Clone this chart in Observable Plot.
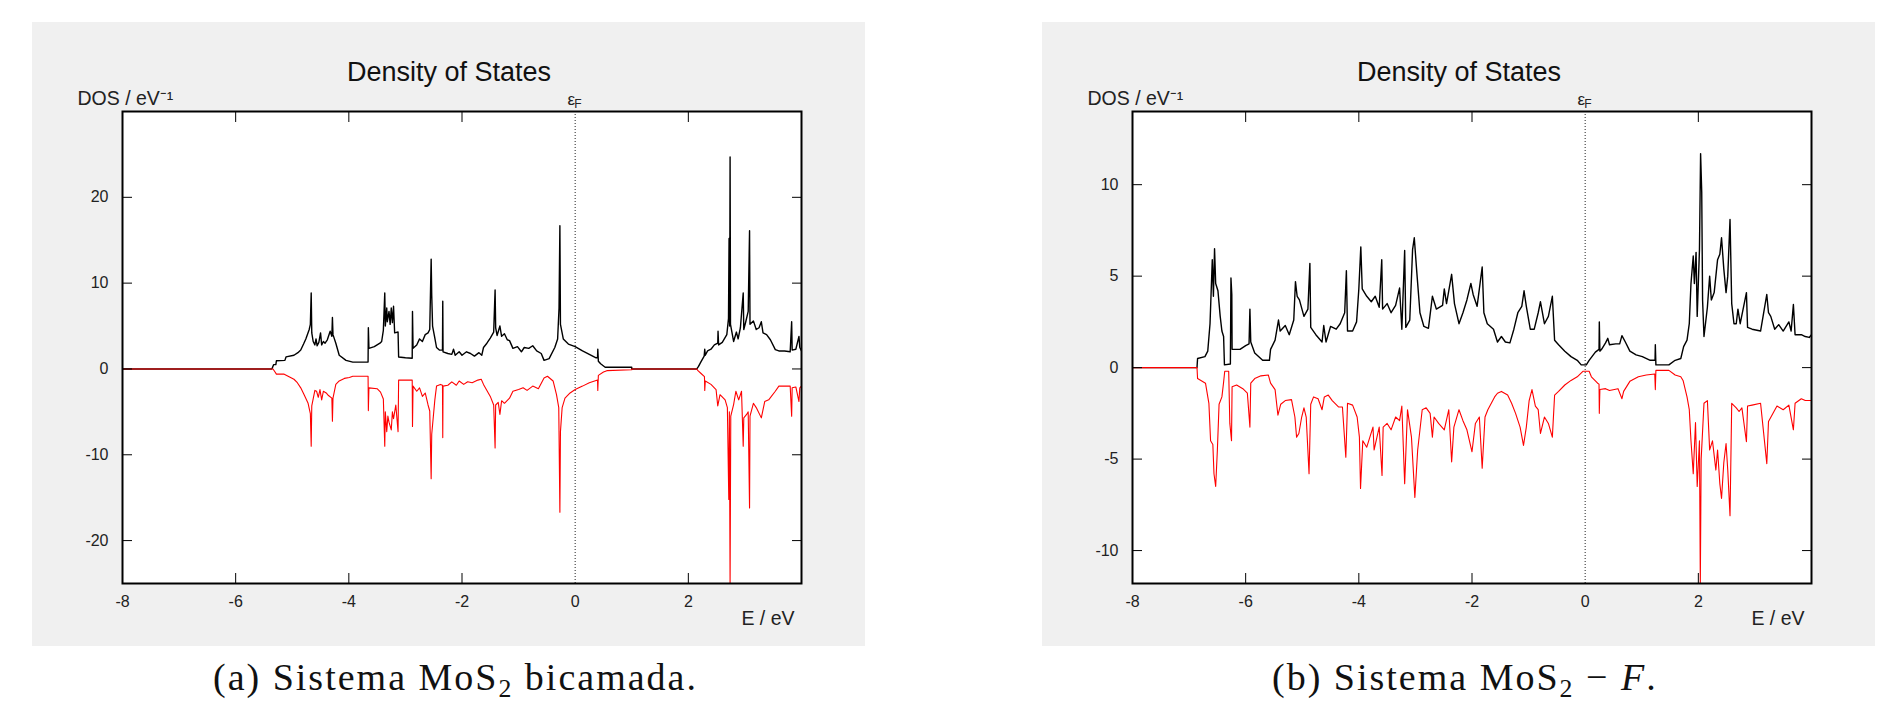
<!DOCTYPE html>
<html><head><meta charset="utf-8">
<script src="https://cdn.jsdelivr.net/npm/d3@7"></script>
<script src="https://cdn.jsdelivr.net/npm/@observablehq/plot@0.6"></script>
<style>
html,body{margin:0;padding:0;background:#fff;width:1884px;height:701px;overflow:hidden;}
.panel{position:absolute;top:22px;line-height:0;}
.cap{position:absolute;top:655px;font-family:"Liberation Serif","Times New Roman",serif;font-size:38px;letter-spacing:2px;white-space:nowrap;color:#111;}
.cap sub{font-size:0.68em;vertical-align:-0.28em;line-height:0;}
</style></head><body>
<div id="pa" class="panel" style="left:32px"></div>
<div id="pb" class="panel" style="left:1042px"></div>
<div class="cap" style="left:213px">(a) Sistema MoS<sub>2</sub> bicamada.</div>
<div class="cap" style="left:1272px">(b) Sistema MoS<sub>2</sub> − <i>F</i>.</div>
<script>
// ---- data (E in eV, DOS in states/eV) ----
const xTickLabels = [-8, -6, -4, -2, 0, 2];
const xTickMarks = [-6, -4, -2, 2];
const yTicksA = [-20, -10, 0, 10, 20];
const yTicksB = [-10, -5, 0, 5, 10];
const yDomainA = [-25, 30];
const yDomainB = [-11.8, 14];

// (a) MoS2 bilayer, spin up (black)
const dosA_up = [[-8,0],[-5.36,0],[-5.33,0.5],[-5.29,0.5],[-5.28,0.95],[-5.13,1.0],[-5.11,1.4],[-4.97,1.6],[-4.90,1.9],[-4.85,2.2],[-4.80,2.9],[-4.76,3.5],[-4.70,4.6],[-4.68,5.2],[-4.665,8.85],[-4.655,4.2],[-4.63,3.2],[-4.60,2.8],[-4.58,3.5],[-4.56,2.7],[-4.53,3.1],[-4.50,4.2],[-4.48,2.8],[-4.45,3.2],[-4.42,3.0],[-4.38,3.4],[-4.33,4.4],[-4.30,3.8],[-4.29,6.0],[-4.28,4.0],[-4.23,3.0],[-4.17,1.6],[-4.05,1.0],[-3.93,0.8],[-3.66,0.8],[-3.655,4.8],[-3.645,2.4],[-3.55,2.6],[-3.45,3.0],[-3.42,3.2],[-3.39,4.5],[-3.365,8.85],[-3.355,5.0],[-3.33,7.1],[-3.32,5.5],[-3.29,6.7],[-3.27,5.2],[-3.25,7.1],[-3.23,5.4],[-3.21,7.3],[-3.19,4.2],[-3.13,4.3],[-3.12,1.4],[-3.0,1.3],[-2.88,1.25],[-2.875,6.7],[-2.865,2.4],[-2.80,2.8],[-2.75,3.5],[-2.70,3.2],[-2.65,4.0],[-2.60,4.2],[-2.57,4.6],[-2.545,12.8],[-2.535,8.6],[-2.52,5.0],[-2.48,3.6],[-2.45,2.5],[-2.40,2.2],[-2.345,2.2],[-2.34,7.9],[-2.335,2.0],[-2.25,1.8],[-2.18,1.7],[-2.15,2.3],[-2.12,1.6],[-2.05,2.0],[-2.0,1.6],[-1.92,2.0],[-1.85,1.8],[-1.78,1.5],[-1.70,1.9],[-1.65,1.6],[-1.62,2.5],[-1.56,3.0],[-1.50,3.6],[-1.44,4.3],[-1.415,9.2],[-1.405,4.8],[-1.38,3.9],[-1.33,5.0],[-1.30,3.8],[-1.25,4.1],[-1.20,3.4],[-1.16,3.3],[-1.10,2.4],[-1.02,2.6],[-0.95,2.0],[-0.90,2.5],[-0.82,2.4],[-0.75,2.7],[-0.68,2.1],[-0.60,1.8],[-0.55,1.0],[-0.46,1.2],[-0.36,2.5],[-0.31,3.5],[-0.285,7.1],[-0.27,16.7],[-0.26,5.2],[-0.21,3.5],[-0.12,2.9],[0,2.6],[0.13,2.1],[0.25,1.7],[0.37,1.3],[0.395,1.3],[0.40,2.3],[0.41,0.9],[0.45,0.6],[0.53,0.2],[1.0,0.2],[1.0,0],[2.15,0],[2.18,0.3],[2.22,0.8],[2.28,1.5],[2.29,2.3],[2.30,1.6],[2.34,2.1],[2.40,2.3],[2.46,2.8],[2.52,3.0],[2.525,4.4],[2.535,2.8],[2.60,3.1],[2.68,4.0],[2.71,5.9],[2.72,15.2],[2.73,5.0],[2.738,24.7],[2.745,5.2],[2.80,3.2],[2.85,4.3],[2.88,3.5],[2.92,4.8],[2.97,8.85],[2.98,4.6],[3.015,5.5],[3.058,6.7],[3.082,16.1],[3.09,5.2],[3.15,5.6],[3.20,4.6],[3.25,4.8],[3.29,5.5],[3.32,4.2],[3.383,4.0],[3.45,3.4],[3.537,2.25],[3.60,2.1],[3.70,2.1],[3.80,2.0],[3.826,5.5],[3.835,2.2],[3.90,2.3],[3.955,3.8],[3.97,2.5],[4.0,2.1]];

// (a) MoS2 bilayer, spin down (red)
const dosA_dn = [[-8,0],[-5.34,0],[-5.31,-0.3],[-5.28,-0.6],[-5.15,-0.6],[-5.09,-0.8],[-4.97,-1.2],[-4.91,-1.6],[-4.85,-2.2],[-4.79,-3.0],[-4.72,-4.0],[-4.68,-5.2],[-4.665,-9.0],[-4.655,-4.3],[-4.6,-2.5],[-4.57,-2.6],[-4.54,-3.3],[-4.51,-2.4],[-4.48,-3.6],[-4.45,-2.6],[-4.40,-2.8],[-4.36,-3.1],[-4.30,-3.4],[-4.29,-6.1],[-4.28,-3.4],[-4.23,-1.8],[-4.17,-1.4],[-4.08,-1.1],[-3.99,-1.0],[-3.93,-0.85],[-3.66,-0.85],[-3.655,-4.85],[-3.645,-2.2],[-3.50,-2.3],[-3.44,-2.7],[-3.39,-3.5],[-3.365,-9.0],[-3.355,-5.0],[-3.33,-7.3],[-3.31,-5.5],[-3.29,-6.2],[-3.25,-7.1],[-3.23,-5.0],[-3.21,-5.8],[-3.17,-4.2],[-3.13,-7.3],[-3.12,-1.3],[-2.88,-1.3],[-2.875,-6.7],[-2.865,-2.0],[-2.80,-2.6],[-2.75,-2.2],[-2.70,-3.2],[-2.65,-2.8],[-2.60,-4.2],[-2.57,-4.9],[-2.545,-12.8],[-2.535,-7.6],[-2.48,-3.6],[-2.45,-2.0],[-2.38,-1.8],[-2.345,-1.9],[-2.34,-8.0],[-2.335,-2.0],[-2.25,-1.9],[-2.18,-1.5],[-2.10,-1.9],[-2.05,-1.4],[-1.97,-1.8],[-1.90,-1.5],[-1.82,-1.6],[-1.72,-1.3],[-1.66,-1.2],[-1.62,-1.8],[-1.56,-2.5],[-1.50,-3.2],[-1.44,-4.2],[-1.415,-9.2],[-1.405,-4.2],[-1.36,-3.9],[-1.33,-5.3],[-1.30,-3.7],[-1.25,-4.0],[-1.16,-3.4],[-1.10,-2.6],[-1.0,-2.4],[-0.92,-2.2],[-0.85,-2.5],[-0.75,-2.0],[-0.65,-2.3],[-0.55,-1.05],[-0.49,-0.85],[-0.39,-1.4],[-0.33,-3.0],[-0.29,-4.5],[-0.27,-16.7],[-0.26,-7.3],[-0.23,-4.5],[-0.18,-3.4],[-0.09,-2.8],[0,-2.4],[0.13,-2.0],[0.25,-1.6],[0.37,-1.35],[0.395,-1.3],[0.40,-2.5],[0.41,-0.75],[0.50,-0.35],[0.56,-0.2],[1.0,-0.1],[1.0,0],[2.15,0],[2.17,-0.2],[2.22,-0.5],[2.285,-0.9],[2.29,-2.5],[2.30,-1.4],[2.40,-1.8],[2.49,-2.4],[2.52,-4.3],[2.56,-3.0],[2.65,-3.6],[2.69,-4.5],[2.715,-15.2],[2.725,-5.0],[2.738,-25],[2.75,-5.5],[2.80,-4.15],[2.84,-2.6],[2.89,-3.6],[2.94,-2.6],[2.97,-9.0],[2.98,-5.7],[3.03,-5.3],[3.058,-5.0],[3.082,-16.2],[3.09,-5.5],[3.15,-4.0],[3.20,-4.5],[3.29,-5.7],[3.35,-3.8],[3.42,-3.6],[3.537,-2.6],[3.60,-2.0],[3.80,-2.0],[3.826,-5.5],[3.835,-2.2],[3.90,-2.1],[3.955,-3.8],[3.97,-2.2],[4.0,-2.0]];

// (b) MoS2-F, spin up (black)
const dosB_up = [[-8,0],[-6.86,0],[-6.85,0.5],[-6.72,0.6],[-6.67,0.9],[-6.63,2.4],[-6.59,5.9],[-6.57,3.9],[-6.55,6.5],[-6.53,4.6],[-6.49,4.2],[-6.45,2.8],[-6.42,2.0],[-6.39,1.7],[-6.375,0.15],[-6.27,0.2],[-6.26,4.9],[-6.245,4.0],[-6.24,1.0],[-6.10,1.0],[-6.0,1.2],[-5.94,1.3],[-5.925,3.2],[-5.91,1.4],[-5.84,0.8],[-5.70,0.4],[-5.58,0.4],[-5.56,1.0],[-5.48,1.5],[-5.42,2.6],[-5.39,2.0],[-5.30,2.3],[-5.23,1.8],[-5.15,2.6],[-5.12,4.7],[-5.09,3.9],[-5.05,3.7],[-4.97,2.8],[-4.90,3.2],[-4.865,5.7],[-4.85,2.2],[-4.76,1.8],[-4.65,1.4],[-4.62,2.3],[-4.58,1.4],[-4.50,2.25],[-4.40,2.1],[-4.33,2.4],[-4.25,3.0],[-4.22,5.3],[-4.20,2.0],[-4.11,2.0],[-4.04,2.5],[-4.00,4.3],[-3.965,6.6],[-3.94,4.3],[-3.86,3.9],[-3.78,3.6],[-3.71,3.9],[-3.64,3.3],[-3.595,5.9],[-3.58,3.2],[-3.50,3.5],[-3.43,3.0],[-3.35,3.4],[-3.28,4.35],[-3.24,2.1],[-3.19,6.4],[-3.17,2.2],[-3.10,2.6],[-3.05,6.45],[-3.02,7.1],[-2.98,5.4],[-2.92,3.0],[-2.85,2.25],[-2.77,2.15],[-2.70,3.9],[-2.63,3.2],[-2.52,3.4],[-2.49,4.3],[-2.45,3.5],[-2.36,5.1],[-2.31,3.5],[-2.23,2.4],[-2.16,3.0],[-2.09,3.7],[-2.02,4.6],[-1.98,4.0],[-1.91,3.35],[-1.82,5.5],[-1.79,3.0],[-1.73,2.4],[-1.62,2.1],[-1.55,1.4],[-1.48,1.7],[-1.41,1.4],[-1.33,1.35],[-1.26,2.1],[-1.19,3.0],[-1.12,3.35],[-1.08,4.2],[-1.04,3.35],[-0.97,2.1],[-0.90,2.1],[-0.83,3.0],[-0.79,3.6],[-0.72,2.4],[-0.65,2.8],[-0.58,3.9],[-0.54,1.5],[-0.47,1.25],[-0.36,0.9],[-0.25,0.6],[-0.14,0.4],[-0.07,0.15],[0.02,0.15],[0.07,0.4],[0.18,0.85],[0.245,1.0],[0.25,2.5],[0.26,0.9],[0.29,1.0],[0.36,1.35],[0.40,1.6],[0.43,1.25],[0.54,1.3],[0.61,1.3],[0.65,1.75],[0.71,1.4],[0.79,0.9],[0.90,0.7],[1.01,0.6],[1.15,0.4],[1.235,0.4],[1.24,1.25],[1.25,0.15],[1.48,0.15],[1.59,0.4],[1.69,0.5],[1.74,1.15],[1.80,1.5],[1.84,2.4],[1.87,4.6],[1.91,6.1],[1.93,4.6],[1.96,6.3],[1.98,2.8],[2.02,6.45],[2.04,11.7],[2.06,9.6],[2.075,3.7],[2.10,1.7],[2.16,3.3],[2.20,5.0],[2.23,3.7],[2.28,4.1],[2.34,5.9],[2.38,6.2],[2.41,7.1],[2.45,5.4],[2.49,4.1],[2.52,5.0],[2.56,8.1],[2.59,3.5],[2.63,2.4],[2.67,2.4],[2.70,3.2],[2.74,2.4],[2.85,4.1],[2.87,2.2],[2.95,2.1],[3.10,2.0],[3.21,4.0],[3.24,3.0],[3.28,2.8],[3.35,2.1],[3.42,2.35],[3.50,2.0],[3.60,2.5],[3.64,2.0],[3.68,3.45],[3.71,1.8],[3.82,1.8],[3.89,1.7],[3.96,1.65],[4.0,1.8]];

// (b) MoS2-F, spin down (red)
const dosB_dn = [[-8,0],[-6.86,0],[-6.85,-0.6],[-6.71,-0.85],[-6.65,-1.95],[-6.62,-4.0],[-6.58,-4.2],[-6.56,-5.8],[-6.53,-6.5],[-6.50,-4.5],[-6.47,-2.0],[-6.42,-1.6],[-6.39,-0.8],[-6.37,-0.2],[-6.30,-0.2],[-6.28,-3.05],[-6.25,-4.0],[-6.24,-1.05],[-6.16,-0.95],[-6.05,-1.15],[-5.97,-1.4],[-5.925,-3.25],[-5.91,-0.85],[-5.84,-0.6],[-5.73,-0.45],[-5.60,-0.4],[-5.56,-0.85],[-5.48,-1.2],[-5.43,-2.6],[-5.38,-2.0],[-5.30,-1.8],[-5.19,-1.75],[-5.13,-2.7],[-5.10,-3.8],[-5.06,-3.6],[-5.01,-2.7],[-4.97,-2.2],[-4.93,-2.7],[-4.88,-5.8],[-4.85,-2.0],[-4.80,-1.6],[-4.72,-1.7],[-4.65,-2.3],[-4.61,-1.6],[-4.54,-1.5],[-4.47,-1.8],[-4.36,-2.15],[-4.29,-2.15],[-4.23,-4.9],[-4.20,-1.95],[-4.11,-2.05],[-4.03,-2.7],[-3.99,-3.8],[-3.97,-6.6],[-3.93,-4.0],[-3.86,-4.35],[-3.75,-3.25],[-3.73,-4.5],[-3.64,-3.25],[-3.59,-5.9],[-3.57,-3.25],[-3.50,-3.05],[-3.43,-3.4],[-3.35,-2.7],[-3.28,-2.9],[-3.24,-2.1],[-3.19,-6.35],[-3.14,-2.3],[-3.07,-3.8],[-3.01,-7.1],[-2.96,-4.5],[-2.88,-2.3],[-2.81,-2.2],[-2.74,-2.5],[-2.70,-3.8],[-2.67,-2.7],[-2.59,-3.05],[-2.49,-3.4],[-2.41,-2.3],[-2.36,-5.15],[-2.32,-3.25],[-2.23,-2.3],[-2.16,-2.9],[-2.09,-3.4],[-2.00,-4.6],[-1.94,-3.05],[-1.87,-2.7],[-1.82,-5.5],[-1.77,-2.7],[-1.72,-2.3],[-1.60,-1.6],[-1.55,-1.4],[-1.48,-1.3],[-1.37,-1.5],[-1.30,-1.95],[-1.23,-2.5],[-1.15,-3.25],[-1.09,-4.25],[-1.04,-3.25],[-0.99,-1.8],[-0.94,-1.2],[-0.88,-2.1],[-0.83,-2.3],[-0.79,-3.6],[-0.72,-2.7],[-0.65,-3.05],[-0.58,-3.8],[-0.54,-1.5],[-0.47,-1.3],[-0.36,-0.95],[-0.25,-0.7],[-0.14,-0.5],[-0.04,-0.2],[0.07,-0.2],[0.11,-0.5],[0.22,-0.85],[0.245,-0.9],[0.25,-2.5],[0.26,-1.2],[0.36,-1.15],[0.43,-1.25],[0.58,-1.15],[0.65,-1.7],[0.68,-1.3],[0.79,-0.75],[0.94,-0.5],[1.08,-0.4],[1.23,-0.35],[1.24,-1.2],[1.25,-0.15],[1.48,-0.15],[1.59,-0.4],[1.69,-0.5],[1.73,-0.7],[1.80,-1.6],[1.84,-2.3],[1.87,-4.0],[1.91,-5.8],[1.95,-3.0],[1.98,-6.5],[2.02,-4.0],[2.035,-11.8],[2.05,-5.0],[2.10,-1.95],[2.16,-1.8],[2.20,-4.5],[2.25,-4.0],[2.31,-5.6],[2.34,-4.5],[2.38,-6.35],[2.41,-7.15],[2.45,-5.2],[2.49,-4.15],[2.52,-5.6],[2.56,-8.1],[2.59,-1.95],[2.67,-2.2],[2.72,-2.4],[2.77,-2.2],[2.85,-4.05],[2.87,-2.1],[2.95,-2.05],[3.10,-1.95],[3.21,-5.25],[3.24,-2.95],[3.32,-2.5],[3.39,-2.1],[3.50,-2.3],[3.60,-2.05],[3.68,-3.4],[3.71,-1.95],[3.82,-1.7],[3.89,-1.8],[4.0,-1.8]];

const titleText = "Density of States";
const yLabelText = "DOS / eV⁻¹";
const xLabelText = "E / eV";

function dosPanel(up, dn, yDomain, yTicks) {
  const font = "'Liberation Sans', Arial, sans-serif";
  const rows = a => a.map(([E, D]) => ({E, D}));
  const blank = () => "";
  return Plot.plot({
    width: 833, height: 624,
    marginLeft: 90, marginRight: 64, marginTop: 89, marginBottom: 63,
    style: {background: "#f0f0f0", fontFamily: font, color: "#222", overflow: "visible"},
    x: {domain: [-8, 4]},
    y: {domain: yDomain},
    marks: [
      Plot.frame({fill: "white", stroke: null}),
      Plot.ruleX([0], {stroke: "#222", strokeDasharray: "1,2", strokeWidth: 1}),
      Plot.line(rows(up), {x: "E", y: "D", stroke: "black", strokeWidth: 1.4, clip: true}),
      Plot.line(rows(dn), {x: "E", y: "D", stroke: "#ff0000", strokeWidth: 1.1, clip: true}),
      Plot.axisX(xTickLabels, {anchor: "bottom", tickSize: 0, tickPadding: 12, fontSize: 16, tickFormat: d => String(d), label: null}),
      Plot.axisX(xTickMarks, {anchor: "bottom", tickSize: -10, tickFormat: blank, label: null, stroke: "black"}),
      Plot.axisX(xTickMarks, {anchor: "top", tickSize: -10, tickFormat: blank, label: null, stroke: "black"}),
      Plot.axisY(yTicks, {anchor: "left", tickSize: 0, tickPadding: 14, fontSize: 16, tickFormat: d => String(d), label: null}),
      Plot.axisY(yTicks, {anchor: "left", tickSize: -10, tickFormat: blank, label: null, stroke: "black"}),
      Plot.axisY(yTicks, {anchor: "right", tickSize: -10, tickFormat: blank, label: null, stroke: "black"}),
      Plot.frame({stroke: "black", strokeWidth: 2}),
      Plot.text([titleText], {text: d => d, frameAnchor: "top", lineAnchor: "bottom", dx: -13, dy: -31, fontSize: 27, fill: "#111"}),
      Plot.text([yLabelText], {text: d => d, frameAnchor: "top-left", textAnchor: "start", lineAnchor: "bottom", dx: -45, dy: -7, fontSize: 19.5, fill: "#222"}),
      Plot.text([xLabelText], {text: d => d, frameAnchor: "bottom-right", textAnchor: "end", lineAnchor: "bottom", dx: -7, dy: 41, fontSize: 19.5, fill: "#222"}),
      Plot.text([0], {x: d => d, text: () => "ε", frameAnchor: "top", textAnchor: "end", lineAnchor: "bottom", dx: 0, dy: -7, fontSize: 17, fill: "#222"}),
      Plot.text([0], {x: d => d, text: () => "F", frameAnchor: "top", textAnchor: "start", lineAnchor: "bottom", dx: -1, dy: -4, fontSize: 12, fill: "#222"})
    ]
  });
}

document.getElementById("pa").append(dosPanel(dosA_up, dosA_dn, yDomainA, yTicksA));
document.getElementById("pb").append(dosPanel(dosB_up, dosB_dn, yDomainB, yTicksB));
</script>
</body></html>
